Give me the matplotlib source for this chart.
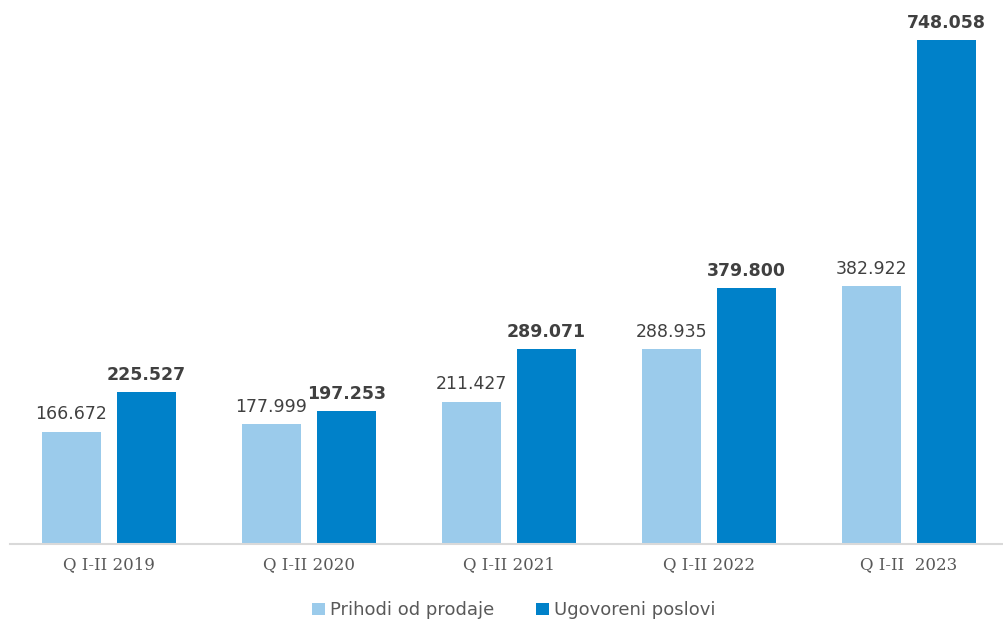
import numpy as np
import matplotlib
matplotlib.use('Agg')
import matplotlib.pyplot as plt

categories = ['Q I-II 2019', 'Q I-II 2020', 'Q I-II 2021', 'Q I-II 2022', 'Q I-II  2023']
prihodi = [166.672, 177.999, 211.427, 288.935, 382.922]
ugovoreni = [225.527, 197.253, 289.071, 379.800, 748.058]
series_names = ['Prihodi od prodaje', 'Ugovoreni poslovi']

c_light = '#9bcbeb'
c_dark = '#0081c9'
txt = '#404040'

fig = plt.figure(figsize=(10.04, 6.22), dpi=100)
ax = fig.add_axes([0.00996, 0.1254, 0.99004, 0.8746])

x = np.arange(len(categories))
w = 0.295
off = 0.1875
b1 = ax.bar(x - off, prihodi, w, color=c_light, label=series_names[0])
b2 = ax.bar(x + off, ugovoreni, w, color=c_dark, label=series_names[1])

for xi, v in zip(x, prihodi):
    ax.annotate('%.3f' % v, (xi - off, v), xytext=(0, 6), textcoords='offset points',
                ha='center', va='bottom', fontsize=12.5, color=txt, family='DejaVu Sans')
for xi, v in zip(x, ugovoreni):
    ax.annotate('%.3f' % v, (xi + off, v), xytext=(0, 6), textcoords='offset points',
                ha='center', va='bottom', fontsize=12.5, color=txt, weight='bold',
                family='DejaVu Sans')

ax.set_xlim(-0.495, 4.475)
ax.set_ylim(0, 807.4)
ax.set_xticks(x)
ax.set_xticklabels(categories, fontsize=12, color='#595959', family='DejaVu Serif')
ax.tick_params(axis='x', length=0, pad=9)
ax.set_yticks([])
for s in ['top', 'right', 'left']:
    ax.spines[s].set_visible(False)
ax.spines['bottom'].set_color('#d9d9d9')
ax.spines['bottom'].set_linewidth(1.5)

leg = fig.legend(handles=[b1, b2], loc='center', bbox_to_anchor=(0.512, 0.019),
                 ncol=2, frameon=False, handlelength=0.7, handleheight=0.7,
                 handletextpad=0.3, columnspacing=2.3,
                 prop={'family': 'DejaVu Sans', 'size': 13})
for t in leg.get_texts():
    t.set_color('#595959')

fig.savefig('out.png', dpi=100)
